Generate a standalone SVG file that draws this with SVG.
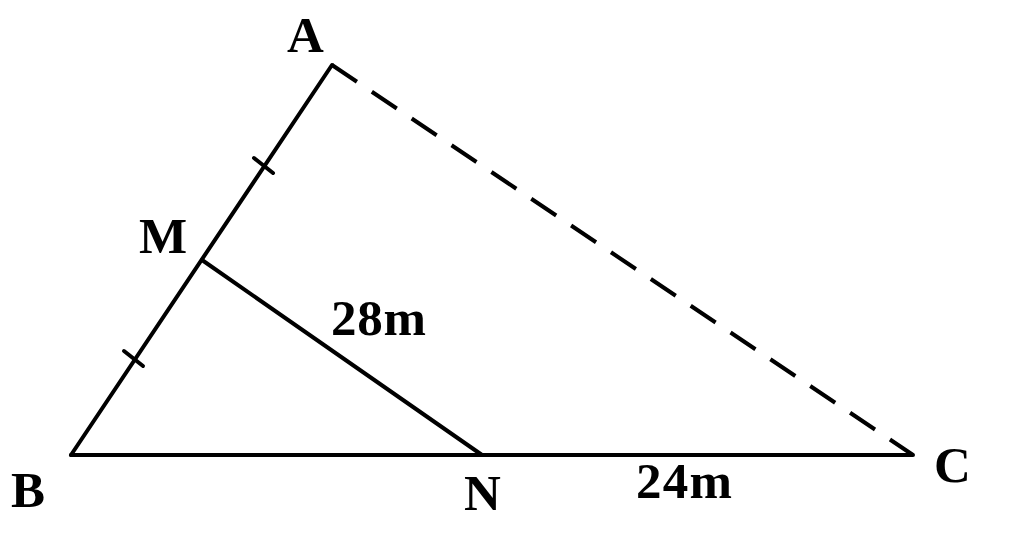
<svg xmlns="http://www.w3.org/2000/svg" width="1024" height="558" viewBox="0 0 1024 558">
<style>
.ln{stroke:#000;stroke-width:4;fill:none;stroke-linecap:round;stroke-linejoin:round}
.dash{stroke:#000;stroke-width:4;fill:none;stroke-dasharray:30 18}
.lbl{font-family:"Liberation Serif","Times New Roman",serif;font-weight:bold;font-size:51px;fill:#000}
</style>
<rect width="1024" height="558" fill="#fff"/>
<g id="connectors">
<line class="ln" x1="71" y1="455" x2="332" y2="65"/>
<line class="dash" x1="332" y1="65" x2="913" y2="455"/>
<line class="ln" x1="71" y1="455" x2="913" y2="455"/>
<line class="ln" x1="202" y1="260" x2="482" y2="455"/>
<line class="ln" x1="254" y1="158" x2="273" y2="173"/>
<line class="ln" x1="124" y1="351" x2="143" y2="366"/>
</g>
<g id="A"><text class="lbl" x="287" y="52">A</text></g>
<g id="B"><text class="lbl" x="11" y="507">B</text></g>
<g id="C"><text class="lbl" x="934" y="482">C</text></g>
<g id="M"><text class="lbl" x="139" y="253">M</text></g>
<g id="N"><text class="lbl" x="464" y="510">N</text></g>
<g id="label28"><text class="lbl" x="331" y="335" textLength="95">28m</text></g>
<g id="label24"><text class="lbl" x="636" y="498" textLength="96">24m</text></g>
</svg>
